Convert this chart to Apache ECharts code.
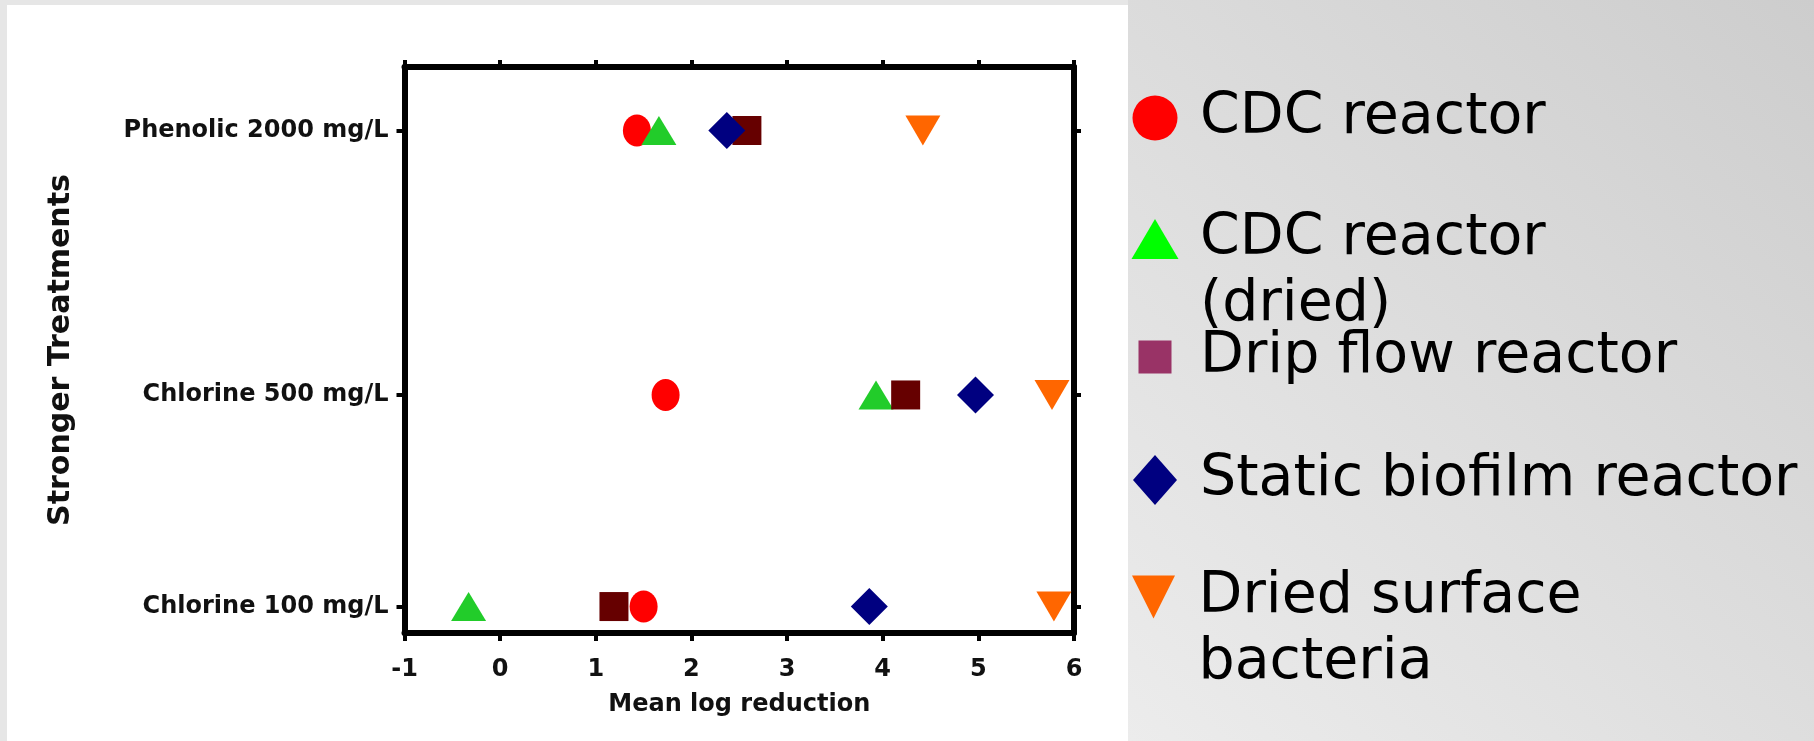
<!DOCTYPE html>
<html>
<head>
<meta charset="utf-8">
<script src="https://cdn.jsdelivr.net/npm/echarts@6/dist/echarts.min.js"></script>
<style>
html,body{margin:0;padding:0;background:#fff;}
#c{width:1814px;height:741px;}
</style>
</head>
<body>
<div id="c"></div>
<script>
// ---- data ----
const categories = ['Chlorine 100 mg/L', 'Chlorine 500 mg/L', 'Phenolic 2000 mg/L'];
const categoryPositions = [0, 4, 9];
const xTickMin = -1;
const xTickMax = 6;
const seriesNames = ['CDC reactor', 'CDC reactor\n(dried)', 'Drip flow reactor', 'Static biofilm reactor', 'Dried surface\nbacteria'];
const cdcReactor = [1.50, 1.73, 1.43];
const cdcReactorDried = [-0.33, 3.93, 1.66];
const dripFlowReactor = [1.19, 4.24, 2.58];
const staticBiofilmReactor = [3.86, 4.97, 2.37];
const driedSurfaceBacteria = [5.79, 5.77, 4.42];

// ---- styling ----
const seriesValues = [cdcReactor, cdcReactorDried, dripFlowReactor, staticBiofilmReactor, driedSurfaceBacteria];
const seriesSymbols = ['circle', 'triangle', 'rect', 'diamond', 'path://M0,0L2,0L1,2Z'];
const seriesSizes = [[28, 32], [35, 29], [29, 29], [37, 37], [35, 30]];
const seriesColors = ['#ff0000', '#22cc2a', '#660000', '#000080', '#ff6600'];

const legendSpec = [
  {icon: 'circle', w: 45, h: 45, color: '#ff0000', center: 116, lines: 1},
  {icon: 'triangle', w: 47, h: 40, color: '#00ff00', center: 237, lines: 2},
  {icon: 'rect', w: 33, h: 33, color: '#993366', center: 355, lines: 1},
  {icon: 'diamond', w: 44, h: 50, color: '#000080', center: 478, lines: 1},
  {icon: 'path://M0,0L2,0L1,2Z', w: 46, h: 43, color: '#ff6600', center: 595, lines: 2}
];

const axisFont = {fontFamily: 'DejaVu Sans', fontWeight: 'bold', color: '#111'};
const frameLine = {show: true, onZero: false, lineStyle: {color: '#000', width: 6}};
const tickStyle = {color: '#000', width: 4};

const chart = echarts.init(document.getElementById('c'));
chart.setOption({
  animation: false,
  graphic: {
    elements: [
      {type: 'rect', z: -101, silent: true, shape: {x: 0, y: 0, width: 1814, height: 741},
        style: {fill: '#e6e6e6'}},
      {type: 'rect', z: -100, silent: true, shape: {x: 1128, y: 0, width: 686, height: 741},
        style: {fill: {type: 'linear', x: 1, y: 0, x2: 0, y2: 1, colorStops: [
          {offset: 0, color: '#cdcdcd'}, {offset: 1, color: '#ececec'}]}}},
      {type: 'rect', z: -99, silent: true, shape: {x: 7, y: 5, width: 1121, height: 736},
        style: {fill: '#ffffff'}}
    ]
  },
  grid: {left: 404.5, top: 67, width: 669.5, height: 566, containLabel: false},
  legend: legendSpec.map((s, i) => ({
    left: 1155 - s.w / 2,
    top: s.center + 2 - (s.lines > 1 ? 99 : 33),
    padding: 0,
    itemGap: 0,
    itemWidth: s.w,
    itemHeight: s.h,
    symbolRotate: 0,
    formatter: s.lines > 1 ? (name => ' \n' + name) : (name => name),
    textStyle: {fontFamily: 'DejaVu Sans', fontSize: 57, lineHeight: 66, color: '#000'},
    data: [{
      name: seriesNames[i],
      icon: s.icon,
      itemStyle: {color: s.color, borderWidth: 0},
      textStyle: {padding: [0, 0, 0, 40 - s.w / 2]}
    }]
  })),
  xAxis: [
    {
      type: 'value', position: 'bottom', min: xTickMin, max: xTickMax, interval: 1,
      axisLine: frameLine,
      axisTick: {show: true, length: 8, lineStyle: tickStyle},
      axisLabel: Object.assign({fontSize: 24, margin: 25}, axisFont),
      splitLine: {show: false},
      name: 'Mean log reduction', nameLocation: 'middle', nameGap: 60,
      nameTextStyle: Object.assign({fontSize: 24}, axisFont)
    },
    {
      type: 'value', position: 'top', min: xTickMin, max: xTickMax, interval: 1,
      axisLine: frameLine,
      axisTick: {show: true, length: 7, lineStyle: tickStyle},
      axisLabel: {show: false},
      splitLine: {show: false}
    }
  ],
  yAxis: [
    {
      type: 'value', position: 'left', min: -0.5, max: 10.2,
      axisLine: frameLine,
      axisTick: {show: true, length: 8, lineStyle: tickStyle, customValues: categoryPositions},
      axisLabel: Object.assign({fontSize: 24, margin: 16, customValues: categoryPositions,
        formatter: v => categories[categoryPositions.indexOf(v)] || ''}, axisFont),
      splitLine: {show: false},
      name: 'Stronger Treatments', nameLocation: 'middle', nameRotate: 90, nameGap: 328,
      nameTextStyle: Object.assign({fontSize: 30}, axisFont)
    },
    {
      type: 'value', position: 'right', min: -0.5, max: 10.2,
      axisLine: frameLine,
      axisTick: {show: true, length: 7, lineStyle: tickStyle, customValues: categoryPositions},
      axisLabel: {show: false},
      splitLine: {show: false}
    }
  ],
  series: seriesNames.map((name, i) => ({
    name: name,
    type: 'scatter',
    xAxisIndex: 0,
    yAxisIndex: 0,
    symbol: seriesSymbols[i],
    symbolSize: seriesSizes[i],
    itemStyle: {color: seriesColors[i], opacity: 1},
    emphasis: {disabled: true},
    data: categoryPositions.map((p, k) => [seriesValues[i][k], p])
  }))
});
</script>
</body>
</html>
